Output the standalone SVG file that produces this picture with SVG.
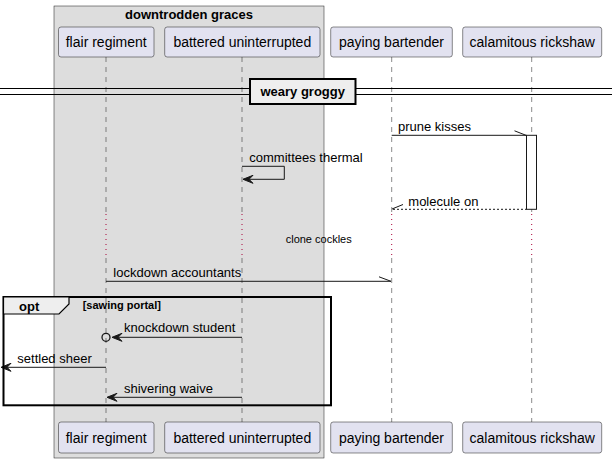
<svg xmlns="http://www.w3.org/2000/svg" width="612" height="463" viewBox="0 0 612 463">
<defs>
<style>
text{font-family:"Liberation Sans",Arial,sans-serif;fill:#000}
.p rect{fill:#E2E2F0;stroke:#181818;stroke-width:0.5}
.p text{font-size:14px;text-anchor:middle}
.life{stroke:#181818;stroke-width:0.5;stroke-dasharray:5,5;fill:none}
.dots{stroke:#A80036;stroke-width:1;stroke-dasharray:1,4;fill:none}
.msg{stroke:#181818;stroke-width:1;fill:none}
.dash{stroke-dasharray:2,2}
.head{fill:#181818;stroke:#181818;stroke-width:1}
.m{font-size:13px}
</style>
</defs>
<g id="box-downtrodden-graces">
<rect x="54" y="6" width="270" height="452" fill="#DDDDDD" stroke="#181818" stroke-width="0.5"/>
<text x="189" y="19" font-size="13" font-weight="bold" text-anchor="middle">downtrodden graces</text>
</g>
<g id="lifelines">
<path class="life" d="M106,57V213M106,258V422M242,57V213M242,258V422M391.7,57V213M391.7,258V422M531.7,57V213M531.7,258V422"/>
<path class="dots" d="M106,214V258M242,214V258M391.7,214V258M531.7,214V258"/>
</g>
<g id="divider">
<line x1="0" y1="88.5" x2="612" y2="88.5" stroke="#000" stroke-width="1.2"/>
<line x1="0" y1="94.5" x2="612" y2="94.5" stroke="#000" stroke-width="1.2"/>
<rect x="250" y="79" width="105.5" height="25" fill="#EEEEEE" stroke="#000" stroke-width="2"/>
<text x="302.7" y="96" font-size="13" font-weight="bold" text-anchor="middle">weary groggy</text>
</g>
<g id="p-flair-regiment" class="p">
<rect x="58.5" y="27" width="95.5" height="30" rx="2.5"/><text x="106.2" y="47">flair regiment</text>
<rect x="58.5" y="422" width="95.5" height="31" rx="2.5"/><text x="106.2" y="442.5">flair regiment</text>
</g>
<g id="p-battered-uninterrupted" class="p">
<rect x="164.7" y="27" width="155.3" height="30" rx="2.5"/><text x="242.3" y="47">battered uninterrupted</text>
<rect x="164.7" y="422" width="155.3" height="31" rx="2.5"/><text x="242.3" y="442.5">battered uninterrupted</text>
</g>
<g id="p-paying-bartender" class="p">
<rect x="330.7" y="27" width="121.6" height="30" rx="2.5"/><text x="391.5" y="47">paying bartender</text>
<rect x="330.7" y="422" width="121.6" height="31" rx="2.5"/><text x="391.5" y="442.5">paying bartender</text>
</g>
<g id="p-calamitous-rickshaw" class="p">
<rect x="462.7" y="27" width="139" height="30" rx="2.5"/><text x="532.2" y="47">calamitous rickshaw</text>
<rect x="462.7" y="422" width="139" height="31" rx="2.5"/><text x="532.2" y="442.5">calamitous rickshaw</text>
</g>
<g id="activation">
<rect x="526.5" y="135.3" width="10" height="74" fill="#FFFFFF" stroke="#181818" stroke-width="1"/>
</g>
<g id="connectors">
<line class="msg" x1="391.7" y1="135.3" x2="526.5" y2="135.3"/>
<line class="msg" x1="514.5" y1="130.8" x2="526" y2="135.3"/>
<text class="m" x="398" y="131">prune kisses</text>
<path class="msg" d="M242,166.3H284.3V179.3H243"/>
<polygon class="head" points="243,179.3 253,175.3 249,179.3 253,183.3"/>
<text class="m" x="249.3" y="161.5">committees thermal</text>
<line class="msg dash" x1="393" y1="209.3" x2="526.5" y2="209.3"/>
<line class="msg" x1="392" y1="209" x2="403" y2="204.5"/>
<text class="m" x="408.3" y="205.5">molecule on</text>
<text x="285.7" y="243" font-size="11">clone cockles</text>
<line class="msg" x1="106" y1="281.3" x2="391" y2="281.3"/>
<line class="msg" x1="379" y1="276.8" x2="391" y2="281.3"/>
<text class="m" x="113.3" y="277">lockdown accountants</text>
<line class="msg" x1="114" y1="337.3" x2="242" y2="337.3"/>
<polygon class="head" points="112,337.3 122,333.3 118,337.3 122,341.3"/>
<circle cx="106" cy="337.3" r="4" fill="none" stroke="#181818" stroke-width="1.3"/>
<text class="m" x="124" y="332">knockdown student</text>
<line class="msg" x1="2" y1="367.3" x2="106" y2="367.3"/>
<polygon class="head" points="1,367.3 11,363.3 7,367.3 11,371.3"/>
<text class="m" x="17.3" y="363">settled sheer</text>
<line class="msg" x1="108" y1="397.3" x2="242" y2="397.3"/>
<polygon class="head" points="107,397.3 117,393.3 113,397.3 117,401.3"/>
<text class="m" x="124" y="392.5">shivering waive</text>
</g>
<g id="opt-frame">
<rect x="3.5" y="297" width="327.5" height="108.3" fill="none" stroke="#000" stroke-width="2"/>
<path d="M3.5,297H69V304L59,314H3.5Z" fill="#EEEEEE" stroke="#000" stroke-width="1.2"/>
<text x="19" y="311" font-size="13" font-weight="bold">opt</text>
<text x="82.7" y="309" font-size="11" font-weight="bold">[sawing portal]</text>
</g>
</svg>
